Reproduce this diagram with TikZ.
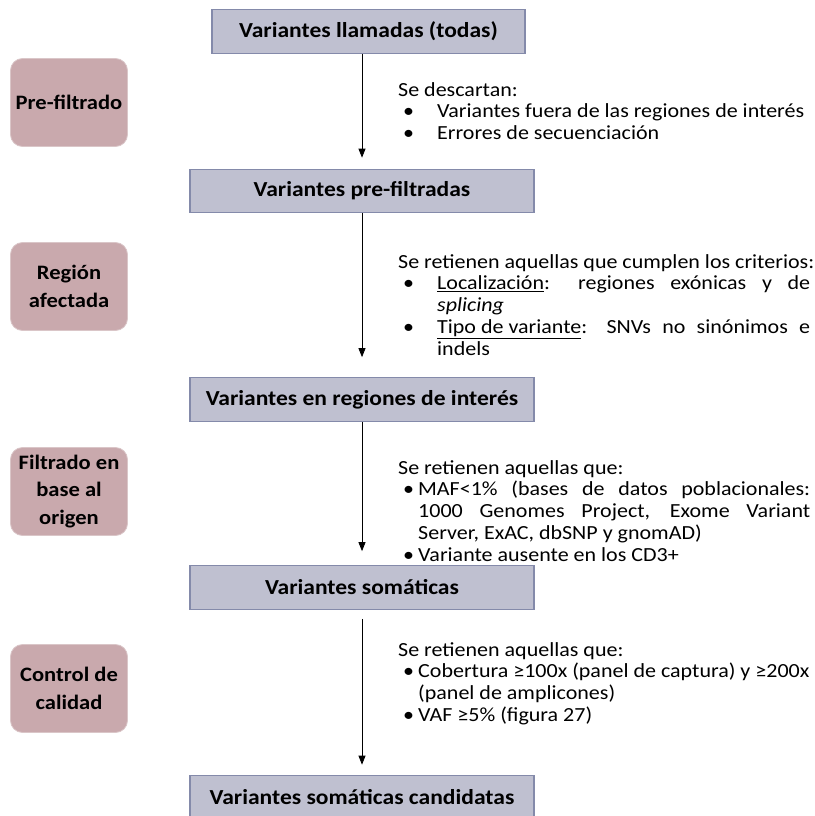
\documentclass[tikz,border=0pt]{standalone}
\usepackage{fontspec}
\setmainfont{Carlito}[FakeStretch=1.1]
\usetikzlibrary{arrows.meta}

\definecolor{stepfill}{RGB}{191,192,208}
\definecolor{stepline}{RGB}{132,138,170}
\definecolor{phasefill}{RGB}{201,169,173}
\definecolor{phaseline}{RGB}{218,198,200}

% bullet with a wide gap (first two lists) and a narrow gap (last two)
\newcommand\bltwide{\hspace*{5pt}\makebox[34pt][l]{•}}
\newcommand\bltnarrow{\hspace*{5pt}\makebox[15pt][l]{•}}
\newcommand\indwide{\hspace*{39pt}}
\newcommand\indnarrow{\hspace*{20pt}}

\begin{document}
\begin{tikzpicture}[x=1pt,y=-1pt,
  stepbox/.style={draw=stepline, line width=1.2pt, fill=stepfill,
    minimum width=344pt, minimum height=43.5pt, inner sep=0pt,
    font=\fontsize{21.4}{25}\selectfont\bfseries},
  phasebox/.style={draw=phaseline, line width=0.8pt, fill=phasefill,
    rounded corners=12pt, minimum width=117pt, minimum height=88pt,
    inner sep=0pt, align=center,
    font=\fontsize{20.5}{27.5}\selectfont\bfseries},
  note/.style={anchor=north west, inner sep=0pt, align=left,
    font=\fontsize{20}{21.8}\selectfont},
  flow/.style={-{Triangle[length=9pt,width=7pt]}, line width=0.8pt}
]
\useasboundingbox (0,0) rectangle (814,816);

% main chain of steps
\node[stepbox, minimum width=313pt] (s1) at (368.5,31.5) {Variantes llamadas (todas)};
\node[stepbox] (s2) at (362,191) {Variantes pre-filtradas};
\node[stepbox] (s3) at (362,399.5) {Variantes en regiones de interés};
\node[stepbox] (s4) at (362,587.5) {Variantes somáticas};
\node[stepbox] (s5) at (362,797) {Variantes somáticas candidatas};

% arrows between steps
\draw[flow, shorten >=11pt] (s1.south -| s2.north) -- (s2.north);
\draw[flow, shorten >=20pt] (s2.south) -- (s3.north);
\draw[flow, shorten >=14pt] (s3.south) -- (s4.north);
\draw[flow, shorten <=9pt, shorten >=10pt] (s4.south) -- (s5.north);

% phase labels on the left
\node[phasebox] (p1) at (69,102.5) {Pre-filtrado};
\node[phasebox] (p2) at (69,286.5) {Región\\afectada};
\node[phasebox] (p3) at (69,491.5) {Filtrado en\\base al\\origen};
\node[phasebox] (p4) at (69,688.5) {Control de\\calidad};

% criteria applied at each step
\node[note] (n1) at (398,82) {Se descartan:\\
  \bltwide Variantes fuera de las regiones de interés\\
  \bltwide Errores de secuenciación};

\node[note] (n2) at (398,254) {Se retienen aquellas que cumplen los criterios:\\
  \bltwide\makebox[373pt][s]{\underline{Localización}: regiones exónicas y de}\\
  \indwide\textit{splicing}\\
  \bltwide\makebox[373pt][s]{\underline{Tipo de variante}: SNVs no sinónimos e}\\
  \indwide indels};

\node[note] (n3) at (398,460) {Se retienen aquellas que:\\
  \bltnarrow\makebox[392pt][s]{MAF<1\% (bases de datos poblacionales:}\\
  \indnarrow\makebox[392pt][s]{1000 Genomes Project, Exome Variant}\\
  \indnarrow Server, ExAC, dbSNP y gnomAD)\\
  \bltnarrow Variante ausente en los CD3+};

\node[note] (n4) at (398,642) {Se retienen aquellas que:\\
  \bltnarrow Cobertura ≥100x (panel de captura) y ≥200x\\
  \indnarrow (panel de amplicones)\\
  \bltnarrow VAF ≥5\% (figura 27)};
\end{tikzpicture}
\end{document}
